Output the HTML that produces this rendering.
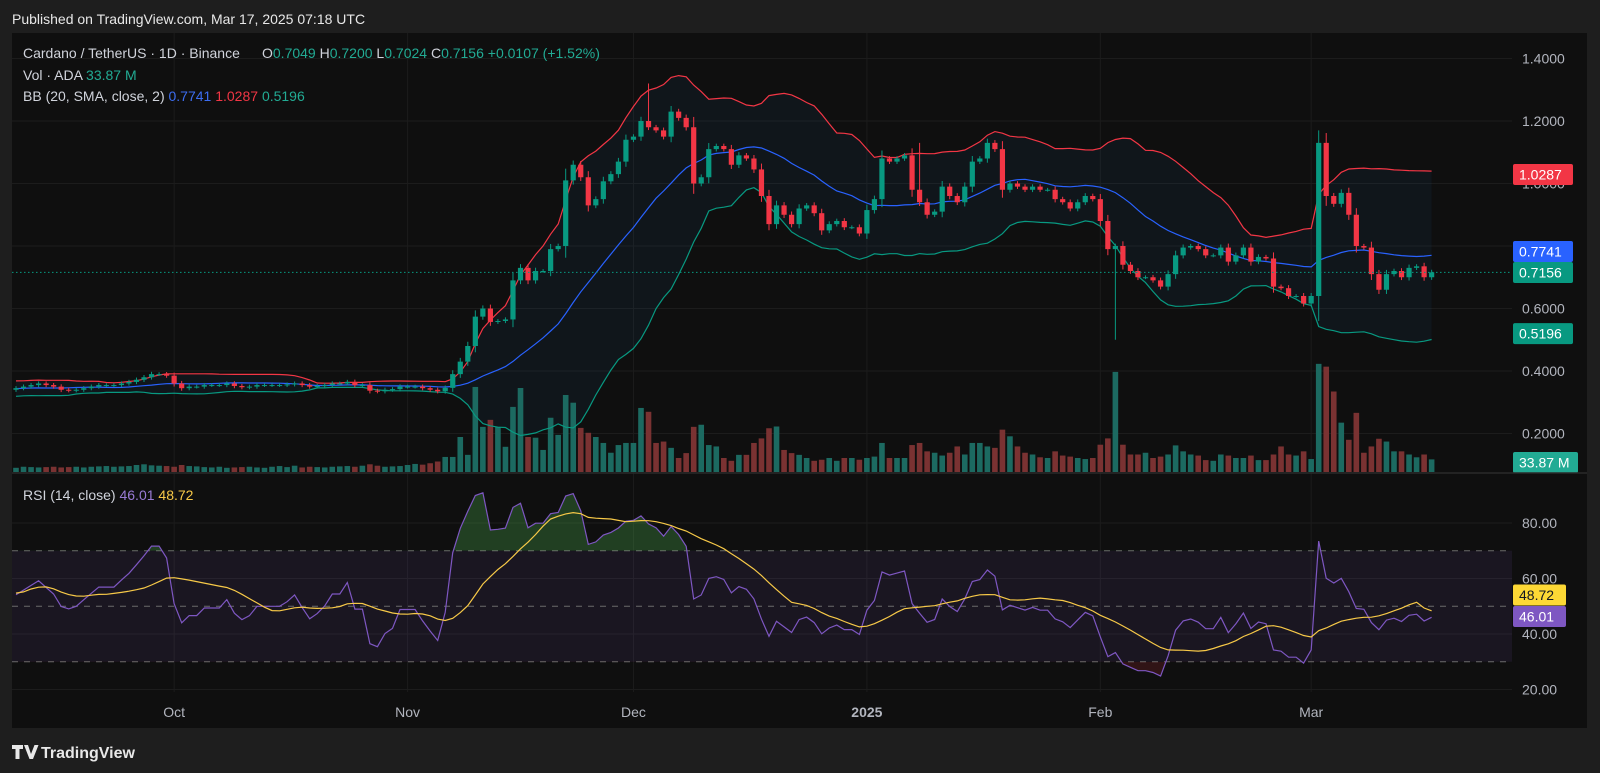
<!DOCTYPE html>
<html><head><meta charset="utf-8">
<style>
html,body{margin:0;padding:0;background:#1e1e1e;}
svg{display:block;font-family:"Liberation Sans",sans-serif;}
</style></head>
<body>
<svg id="chart" width="1600" height="773" viewBox="0 0 1600 773" xmlns="http://www.w3.org/2000/svg">
  <rect x="0" y="0" width="1600" height="773" fill="#1e1e1e"/>
  <text x="12" y="24" fill="#e8e8e8" font-size="14">Published on TradingView.com, Mar 17, 2025 07:18 UTC</text>
  <rect x="12" y="33" width="1575" height="695" fill="#0f0f0f"/>
  <g id="grid"></g>
  <g id="bbfill"></g>
  <g id="vol"></g>
  <g id="bands"></g>
  <g id="candles"></g>
  <g id="rsi"></g>
  <g id="axes"></g>
  <line x1="12" y1="473" x2="1587" y2="473" stroke="#2a2a2a" stroke-width="1.5"/>
  <g font-size="14">
    <text x="23" y="58" fill="#d1d4dc">Cardano / TetherUS · 1D · Binance</text>
    <text x="262" y="58" fill="#d1d4dc">O<tspan fill="#22ab94">0.7049</tspan>  H<tspan fill="#22ab94">0.7200</tspan>  L<tspan fill="#22ab94">0.7024</tspan>  C<tspan fill="#22ab94">0.7156</tspan> <tspan fill="#22ab94">+0.0107 (+1.52%)</tspan></text>
    <text x="23" y="80" fill="#d1d4dc">Vol · ADA  <tspan fill="#22ab94">33.87 M</tspan></text>
    <text x="23" y="101" fill="#d1d4dc">BB (20, SMA, close, 2)  <tspan fill="#3c6df0">0.7741</tspan>  <tspan fill="#f23645">1.0287</tspan>  <tspan fill="#22ab94">0.5196</tspan></text>
    <text x="23" y="500" fill="#d1d4dc">RSI (14, close)  <tspan fill="#9a7bd6">46.01</tspan>  <tspan fill="#f7c948">48.72</tspan></text>
  </g>
  <g>
    <path d="M12 745 h11 v4 h-3.5 v10 h-4 v-10 h-3.5z M24 745 h4 l3 9 l3.5 -9 h4 l-5.5 14 h-3.5z" fill="#e8e8e8"/>
    <text x="41" y="758" fill="#e8e8e8" font-size="16" font-weight="bold">TradingView</text>
  </g>
</svg>
<script>
const warmCloses=[0.33,0.34,0.35,0.36,0.35,0.34,0.33,0.32,0.33,0.34,0.36,0.37,0.36,0.35,0.34,0.33,0.34,0.35,0.34];
const closes=[
0.345,0.35,0.355,0.36,0.355,0.35,0.34,0.338,0.34,0.345,0.35,0.355,0.355,0.355,0.36,0.365,0.372,0.38,0.39,0.39,0.385,
0.36,0.345,0.35,0.35,0.355,0.355,0.355,0.36,0.352,0.348,0.35,0.355,0.355,0.355,0.355,0.357,0.36,0.355,0.35,0.352,0.355,0.36,0.36,0.365,0.355,0.355,0.337,0.335,0.34,0.342,0.35,
0.35,0.35,0.345,0.34,0.335,
0.346,0.39,0.43,0.48,0.574,0.60,0.557,0.56,0.565,0.69,0.73,0.69,0.72,0.72,0.79,0.80,1.01,1.06,1.02,0.93,0.95,1.007,1.03,1.07,1.14,1.15,1.20,1.18,1.17,1.15,1.23,1.21,1.18,1.00,1.02,1.11,1.12,1.11,1.06,1.09,1.08,1.045,0.96,0.87,0.93,0.90,0.87,0.92,0.93,0.905,0.85,0.87,0.88,0.86,0.86,0.84,0.915,0.95,1.08,1.07,1.08,1.09,0.98,
0.94,0.90,0.91,0.99,0.96,0.94,0.99,1.07,1.08,1.13,1.11,0.98,1.00,0.99,0.98,0.99,0.98,0.98,0.95,0.94,0.92,0.94,0.96,0.95,0.88,0.79,0.80,
0.74,0.72,0.70,0.70,0.69,0.67,0.71,0.77,0.795,0.80,0.79,0.77,0.77,0.795,0.75,0.77,0.795,0.75,0.765,0.76,0.67,0.665,0.64,0.64,0.616,
0.64,1.13,0.96,0.935,0.97,0.90,0.80,0.795,0.71,0.66,0.71,0.72,0.70,0.73,0.735,0.70,0.7156];
const volumes=[
120,150,140,130,140,150,130,140,150,130,150,160,170,150,160,170,200,220,190,180,170,
150,200,170,160,140,130,150,120,130,140,150,130,120,150,170,140,180,130,150,140,130,150,160,170,150,180,220,180,150,160,170,
200,230,210,250,300,
430,430,1000,490,2430,1290,1490,1290,720,1860,2400,1000,980,630,1550,1060,2200,1980,1260,1120,1000,830,550,770,
830,830,1830,1720,830,870,690,400,540,1290,1350,770,730,400,320,490,490,830,960,1250,1300,630,540,490,400,320,350,400,320,400,400,
350,400,440,830,400,400,400,770,
830,590,550,470,550,730,500,830,830,730,690,1210,1020,730,550,500,420,400,590,470,440,400,370,400,780,960,2860,
780,500,500,550,400,440,500,760,590,500,470,340,320,500,470,400,400,470,340,340,500,730,500,470,590,
370,3090,3010,2300,1410,920,1690,550,730,950,870,590,590,500,420,500,360];
const extremeIdx=[84,146,173,120];
const extremeVal=[1.32,0.50,1.17,1.13];
const priceTicks=[1.4,1.2,1.0,0.8,0.6,0.4,0.2];
const rsiTicks=[80,60,40,20];
const monthLabels=["Oct","Nov","Dec","2025","Feb","Mar"];
const monthIdx=[21,52,82,113,144,172];

const NS="http://www.w3.org/2000/svg";
function mk(parent,tag,attrs){const e=document.createElementNS(NS,tag);for(const k in attrs)e.setAttribute(k,attrs[k]);parent.appendChild(e);return e;}
const X0=16,DX=7.53,PL=12,PR=1512;
const xs=i=>X0+i*DX;
const yP=p=>58.5+(1.4-p)*312.5;
const yR=v=>523+(80-v)*2.775;
const VB=472,VK=0.035;
const yV=v=>VB-v*VK;

const grid=document.getElementById('grid');
priceTicks.forEach(t=>{const l=mk(grid,'line',{x1:PL,x2:PR,y1:yP(t),y2:yP(t),stroke:'#1c1c1c'});

});
rsiTicks.forEach(t=>{const l=mk(grid,'line',{x1:PL,x2:PR,y1:yR(t),y2:yR(t),stroke:'#1c1c1c'});

});
monthIdx.forEach(i=>{const l=mk(grid,'line',{x1:xs(i),x2:xs(i),y1:33,y2:692,stroke:'#1c1c1c'});

});

const all=warmCloses.concat(closes);const W=warmCloses.length;
const up=[],mid=[],lo=[];
closes.forEach((c,i)=>{const s=all.slice(W+i-19,W+i+1);const m=s.reduce((a,b)=>a+b,0)/s.length;const sd=Math.sqrt(s.reduce((a,b)=>a+(b-m)*(b-m),0)/s.length);mid.push(m);up.push(m+2*sd);lo.push(m-2*sd);});
const pts=a=>a.map((v,i)=>xs(i).toFixed(1)+','+yP(v).toFixed(1)).join(' ');
const fill=document.getElementById('bbfill');
const fp=mk(fill,'polygon',{points:pts(up)+' '+lo.map((v,i)=>xs(i).toFixed(1)+','+yP(v).toFixed(1)).reverse().join(' '),fill:'rgba(33,150,243,0.055)'});


const bands=document.getElementById('bands');
[[up,'#f23645','bb-upper'],[mid,'#2962ff','bb-basis'],[lo,'#089981','bb-lower']].forEach(([a,c,n])=>{const l=mk(bands,'polyline',{points:pts(a),fill:'none',stroke:c,'stroke-width':1.2});

});

const vol=document.getElementById('vol');
volumes.forEach((v,i)=>{const o=i?closes[i-1]:warmCloses[W-1];const g=closes[i]>=o;const r=mk(vol,'rect',{x:xs(i)-2.8,y:yV(v),width:5.6,height:VB-yV(v),fill:g?'#1c6a61':'#7a3232'});

});

const cg=document.getElementById('candles');
closes.forEach((c,i)=>{const o=i?closes[i-1]:warmCloses[W-1];const g=c>=o;const col=g?'#089981':'#f23645';
let hi=Math.max(o,c)+0.006+0.15*Math.abs(c-o),low=Math.min(o,c)-0.006-0.15*Math.abs(c-o);
const k=extremeIdx.indexOf(i);if(k>=0){if(extremeVal[k]>Math.max(o,c))hi=extremeVal[k];else low=extremeVal[k];}
const w=mk(cg,'line',{x1:xs(i),x2:xs(i),y1:yP(hi),y2:yP(low),stroke:col,'stroke-width':1});


const t=Math.min(yP(o),yP(c)),h=Math.max(1,Math.abs(yP(o)-yP(c)));
const b=mk(cg,'rect',{x:xs(i)-2.6,y:t,width:5.2,height:h,fill:col});

});
const pl=mk(cg,'line',{x1:PL,x2:PR,y1:yP(0.7156),y2:yP(0.7156),stroke:'#089981','stroke-dasharray':'1.5 2.5'});



const rg=document.getElementById('rsi');
const bandR=mk(rg,'rect',{x:PL,y:yR(70),width:PR-PL,height:yR(30)-yR(70),fill:'rgba(126,87,194,0.1)'});


[70,50,30].forEach(v=>{const l=mk(rg,'line',{x1:PL,x2:PR,y1:yR(v),y2:yR(v),stroke:'#6a6a6a','stroke-dasharray':'6 6'});

});
const rsiAll=[];let ag=0,al=0;
for(let j=1;j<all.length;j++){const d=all[j]-all[j-1];const g=Math.max(d,0),l=Math.max(-d,0);
if(j<=14){ag+=g/14;al+=l/14;}else{ag=(ag*13+g)/14;al=(al*13+l)/14;}
rsiAll[j]=al===0?100:100-100/(1+ag/al);}
const rsi=closes.map((c,i)=>rsiAll[W+i]);
const rsiMA=rsi.map((v,i)=>{const s=rsiAll.slice(Math.max(1,W+i-13),W+i+1);return s.reduce((a,b)=>a+b,0)/s.length;});
const rpts=a=>a.map((v,i)=>xs(i).toFixed(1)+','+yR(v).toFixed(1)).join(' ');
const defs=mk(rg,'defs',{});
const c1=mk(defs,'clipPath',{id:'ob'});mk(c1,'rect',{x:0,y:0,width:1600,height:yR(70)});
const c2=mk(defs,'clipPath',{id:'os'});mk(c2,'rect',{x:0,y:yR(30),width:1600,height:100});
const obf=mk(rg,'polygon',{points:xs(0)+','+yR(70)+' '+rpts(rsi)+' '+xs(rsi.length-1)+','+yR(70),fill:'rgba(76,175,80,0.3)','clip-path':'url(#ob)'});


const osf=mk(rg,'polygon',{points:xs(0)+','+yR(30)+' '+rpts(rsi)+' '+xs(rsi.length-1)+','+yR(30),fill:'rgba(242,54,69,0.15)','clip-path':'url(#os)'});


const rl=mk(rg,'polyline',{points:rpts(rsi),fill:'none',stroke:'#7e57c2','stroke-width':1.2});


const rm=mk(rg,'polyline',{points:rpts(rsiMA),fill:'none',stroke:'#f7c948','stroke-width':1.2});



const ax=document.getElementById('axes');
priceTicks.forEach(t=>{const e=mk(ax,'text',{x:1522,y:yP(t)+5,fill:'#b2b5be','font-size':14});e.textContent=t.toFixed(4);

});
rsiTicks.forEach(t=>{const e=mk(ax,'text',{x:1522,y:yR(t)+5,fill:'#b2b5be','font-size':14});e.textContent=t.toFixed(2);

});
monthLabels.forEach((m,k)=>{const e=mk(ax,'text',{x:xs(monthIdx[k]),y:717,fill:'#b2b5be','font-size':14,'text-anchor':'middle','font-weight':m==='2025'?'bold':'normal'});e.textContent=m;

});
function tag(cy,txt,bg,fg,w,name){const r=mk(ax,'rect',{x:1513,y:cy-10.5,width:w,height:21,rx:2,fill:bg});


const t=mk(ax,'text',{x:1519,y:cy+5,fill:fg,'font-size':14});t.textContent=txt;

}
tag(yP(1.0287),'1.0287','#f23645','#ffffff',60,'bb-upper-label');
tag(251.5,'0.7741','#2962ff','#ffffff',60,'bb-basis-label');
tag(272.5,'0.7156','#089981','#ffffff',60,'last-price-label');
tag(yP(0.5196),'0.5196','#089981','#ffffff',60,'bb-lower-label');
tag(462.5,'33.87 M','#22ab94','#ffffff',65,'volume-label');
tag(595,'48.72','#fdd835','#131722',53,'rsi-ma-label');
tag(616.5,'46.01','#7e57c2','#ffffff',53,'rsi-label');
</script>
</body></html>
